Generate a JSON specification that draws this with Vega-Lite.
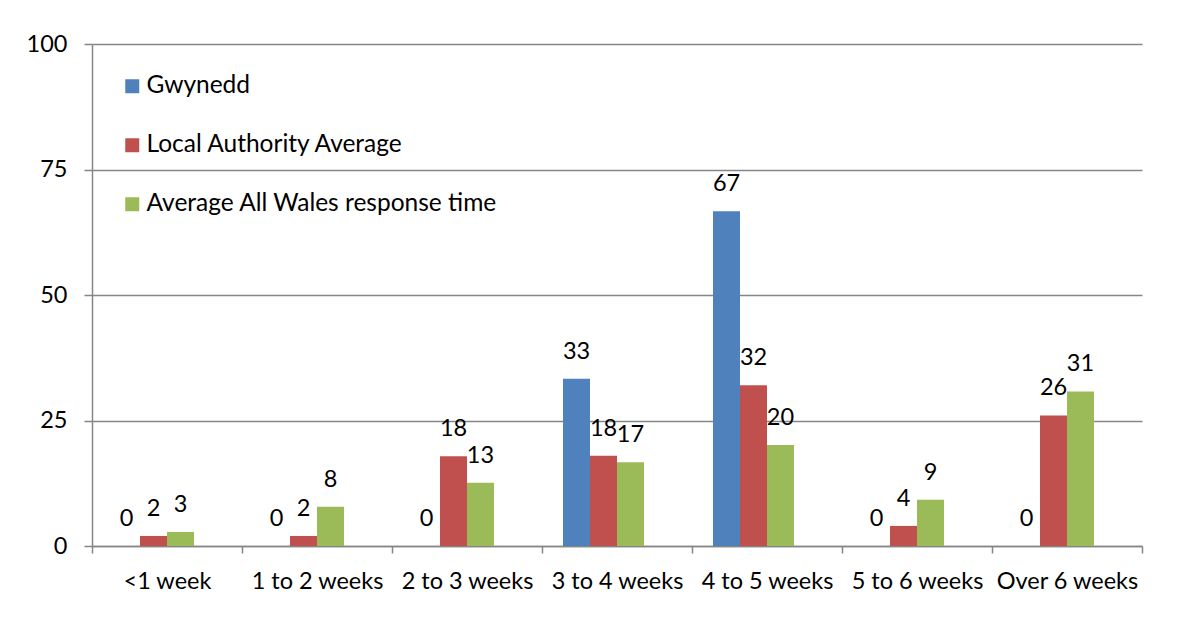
{
  "$schema": "https://vega.github.io/schema/vega-lite/v6.json",
  "width": 1050,
  "height": 502,
  "autosize": {"type": "none"},
  "padding": {"left": 92, "top": 44, "right": 8, "bottom": 91},
  "background": "white",
  "data": {
    "values": [
      {"week": "<1 week", "series": "Gwynedd", "value": 0},
      {"week": "<1 week", "series": "Local Authority Average", "value": 2.0},
      {"week": "<1 week", "series": "Average All Wales response time", "value": 2.8},
      {"week": "1 to 2 weeks", "series": "Gwynedd", "value": 0},
      {"week": "1 to 2 weeks", "series": "Local Authority Average", "value": 2.0},
      {"week": "1 to 2 weeks", "series": "Average All Wales response time", "value": 7.8},
      {"week": "2 to 3 weeks", "series": "Gwynedd", "value": 0},
      {"week": "2 to 3 weeks", "series": "Local Authority Average", "value": 17.9},
      {"week": "2 to 3 weeks", "series": "Average All Wales response time", "value": 12.6},
      {"week": "3 to 4 weeks", "series": "Gwynedd", "value": 33.3},
      {"week": "3 to 4 weeks", "series": "Local Authority Average", "value": 18.0},
      {"week": "3 to 4 weeks", "series": "Average All Wales response time", "value": 16.7},
      {"week": "4 to 5 weeks", "series": "Gwynedd", "value": 66.7},
      {"week": "4 to 5 weeks", "series": "Local Authority Average", "value": 32.0},
      {"week": "4 to 5 weeks", "series": "Average All Wales response time", "value": 20.1},
      {"week": "5 to 6 weeks", "series": "Gwynedd", "value": 0},
      {"week": "5 to 6 weeks", "series": "Local Authority Average", "value": 4.0},
      {"week": "5 to 6 weeks", "series": "Average All Wales response time", "value": 9.2},
      {"week": "Over 6 weeks", "series": "Gwynedd", "value": 0},
      {"week": "Over 6 weeks", "series": "Local Authority Average", "value": 26.0},
      {"week": "Over 6 weeks", "series": "Average All Wales response time", "value": 30.8}
    ]
  },
  "encoding": {
    "x": {
      "field": "week",
      "type": "nominal",
      "sort": ["<1 week", "1 to 2 weeks", "2 to 3 weeks", "3 to 4 weeks", "4 to 5 weeks", "5 to 6 weeks", "Over 6 weeks"],
      "scale": {"paddingInner": 0, "paddingOuter": 0},
      "axis": {
        "title": null,
        "labelAngle": 0,
        "tickBand": "extent",
        "grid": false,
        "domainColor": "#868686",
        "domainWidth": 1.5,
        "tickColor": "#868686",
        "tickWidth": 1.5,
        "tickSize": 7,
        "labelFont": "Lato",
        "labelFontSize": 23.5,
        "labelColor": "black",
        "labelPadding": 16
      }
    },
    "xOffset": {
      "field": "series",
      "type": "nominal",
      "scale": {
        "domain": ["Gwynedd", "Local Authority Average", "Average All Wales response time", "_"],
        "paddingInner": 0,
        "paddingOuter": 0.7778
      }
    },
    "y": {
      "field": "value",
      "type": "quantitative",
      "scale": {"domain": [0, 100]},
      "axis": {
        "title": null,
        "values": [0, 25, 50, 75, 100],
        "grid": true,
        "gridColor": "#868686",
        "gridWidth": 1.5,
        "domainColor": "#868686",
        "domainWidth": 1.5,
        "tickColor": "#868686",
        "tickWidth": 1.5,
        "tickSize": 8,
        "labelPadding": 17,
        "labelFont": "Lato",
        "labelFontSize": 23.5,
        "labelColor": "black"
      }
    }
  },
  "layer": [
    {
      "mark": {"type": "bar"},
      "encoding": {
        "color": {
          "field": "series",
          "type": "nominal",
          "scale": {
            "domain": ["Gwynedd", "Local Authority Average", "Average All Wales response time"],
            "range": ["#4F81BD", "#C0504D", "#9BBB59"]
          },
          "legend": {
            "orient": "none",
            "legendX": 28,
            "legendY": 30,
            "title": null,
            "symbolType": "square",
            "symbolSize": 196,
            "symbolStrokeWidth": 0,
            "symbolOpacity": 1,
            "labelFont": "Lato",
            "labelFontSize": 24.5,
            "labelColor": "black",
            "labelLimit": 0,
            "labelOffset": 2,
            "rowPadding": 34
          }
        }
      }
    },
    {
      "mark": {"type": "text", "dy": -20, "baseline": "alphabetic", "font": "Lato", "fontSize": 23.5, "color": "black"},
      "encoding": {
        "text": {"field": "value", "type": "quantitative", "format": ".0f"}
      }
    }
  ],
  "config": {"view": {"stroke": null}}
}
